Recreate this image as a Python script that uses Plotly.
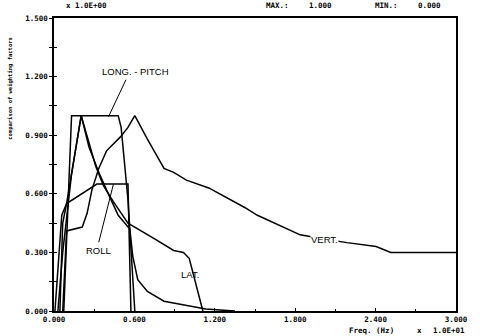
import plotly.graph_objects as go

# frequency in units of 10 Hz (axis 0..3.0), weighting factor 0..1.5
x_vert = [0.065, 0.094, 0.211, 0.247, 0.283, 0.334, 0.392, 0.494, 0.552, 0.603, 0.697, 0.821,
          0.893, 0.988, 1.155, 1.423, 1.518, 1.714, 1.837, 2.004, 2.186, 2.404, 2.513, 3.0]
y_vert = [0.0, 0.41, 0.43, 0.50, 0.62, 0.73, 0.82, 0.89, 0.94, 1.0, 0.88, 0.73,
          0.71, 0.67, 0.63, 0.53, 0.49, 0.43, 0.39, 0.37, 0.35, 0.33, 0.30, 0.30]

x_lp = [0.073, 0.131, 0.479, 0.501, 0.552, 0.603]
y_lp = [0.0, 1.0, 1.0, 0.94, 0.57, 0.0]

x_roll = [0.044, 0.065, 0.094, 0.320, 0.552, 0.574]
y_roll = [0.0, 0.45, 0.55, 0.65, 0.65, 0.0]

x_lat = [0.007, 0.058, 0.094, 0.203, 0.312, 0.370, 0.443, 0.552, 0.748, 0.893, 0.966, 1.009, 1.111]
y_lat = [0.0, 0.49, 0.55, 1.0, 0.74, 0.64, 0.56, 0.45, 0.37, 0.31, 0.30, 0.27, 0.0]

x_c5 = [0.029, 0.065, 0.131, 0.203, 0.261, 0.334, 0.392, 0.479, 0.566, 0.588, 0.625, 0.697,
        0.821, 0.988, 1.133, 1.35]
y_c5 = [0.0, 0.30, 0.70, 1.0, 0.84, 0.71, 0.62, 0.49, 0.42, 0.28, 0.16, 0.10,
        0.05, 0.03, 0.01, 0.0]

x_tickvals = [0.0, 0.6, 1.2, 1.8, 2.4, 3.0]
x_ticktext = ["0.000", "0.600", "1.200", "1.800", "2.400", "3.000"]
y_tickvals = [0.0, 0.3, 0.6, 0.9, 1.2, 1.5]
y_ticktext = ["0.000", "0.300", "0.600", "0.900", "1.200", "1.500"]
y_minor = [0.15, 0.45, 0.75, 1.05, 1.35]
x_minor = [0.3, 0.9, 1.5, 2.1, 2.7]

fig = go.Figure()
for xs, ys in [(x_vert, y_vert), (x_lp, y_lp), (x_roll, y_roll), (x_lat, y_lat), (x_c5, y_c5)]:
    fig.add_trace(go.Scatter(x=xs, y=ys, mode="lines",
                             line=dict(color="black", width=1.5), hoverinfo="skip"))
# invisible helper to draw the inner half of y ticks
fig.add_trace(go.Scatter(x=[x_vert[0]], y=[y_vert[0]], yaxis="y2", mode="markers",
                         marker=dict(opacity=0), hoverinfo="skip"))

tickfont = dict(family="DejaVu Sans Mono", size=7.5, color="black", weight="bold")

fig.update_layout(
    width=480, height=336,
    margin=dict(l=54, r=13, t=18, b=24),
    paper_bgcolor="white", plot_bgcolor="white",
    showlegend=False,
    xaxis=dict(range=[0, 3], tickmode="array", tickvals=x_tickvals, ticktext=x_ticktext,
               showline=True, linecolor="black", linewidth=1.5, mirror=True,
               ticks="inside", ticklen=3, tickcolor="black", tickwidth=1,
               showgrid=False, zeroline=False, tickfont=tickfont,
               minor=dict(tickvals=x_minor, ticks="inside", ticklen=2, tickcolor="black")),
    yaxis=dict(range=[0, 1.5], tickmode="array", tickvals=y_tickvals, ticktext=y_ticktext,
               showline=True, linecolor="black", linewidth=1.5, mirror=True,
               ticks="outside", ticklen=3, tickcolor="black", tickwidth=1,
               showgrid=False, zeroline=False, tickfont=tickfont,
               minor=dict(tickvals=y_minor, ticks="outside", ticklen=3, tickcolor="black")),
    yaxis2=dict(range=[0, 1.5], overlaying="y", side="left", tickmode="array",
                tickvals=y_tickvals, showticklabels=False, showline=False,
                ticks="inside", ticklen=3, tickcolor="black", showgrid=False, zeroline=False,
                minor=dict(tickvals=y_minor, ticks="inside", ticklen=3, tickcolor="black")),
)

def ptext(txt, xp, yp, size=7.5, angle=0, xanchor="center"):
    fig.add_annotation(text=txt, x=xp, y=yp, xref="paper", yref="paper", showarrow=False,
                       xanchor=xanchor, yanchor="middle", textangle=angle, borderpad=0,
                       font=dict(family="DejaVu Sans Mono", size=size, color="black", weight="bold"))

ptext("x 1.0E+00", 0.082, 1.041)
ptext("MAX.:", 0.557, 1.041)
ptext("1.000", 0.663, 1.041)
ptext("MIN.:", 0.826, 1.041)
ptext("0.000", 0.935, 1.041)
ptext("comparison of weighting factors", -0.109, 0.759, size=5.5, angle=-90)
ptext("Freq. (Hz)", 0.789, -0.066, size=7.5)
ptext("x", 0.910, -0.066, size=7.5)
ptext("1.0E+01", 0.983, -0.066, size=7.5)

labfont = dict(family="Liberation Sans", size=9.5, color="black")
def dtext(txt, x, y, bg=None):
    fig.add_annotation(text=txt, x=x, y=y, xref="x", yref="y", showarrow=False,
                       font=labfont, bgcolor=bg, borderpad=0)

dtext("LONG. - PITCH", 0.61, 1.224)
dtext("ROLL", 0.334, 0.311)
dtext("LAT.", 1.017, 0.189)
dtext("VERT.", 2.02, 0.367, bg="white")

fig.add_shape(type="line", x0=0.537, y0=1.184, x1=0.407, y1=0.995, xref="x", yref="y",
              line=dict(color="black", width=1))
fig.add_shape(type="line", x0=0.334, y0=0.352, x1=0.443, y1=0.648, xref="x", yref="y",
              line=dict(color="black", width=1))

fig.write_html("out.html")
